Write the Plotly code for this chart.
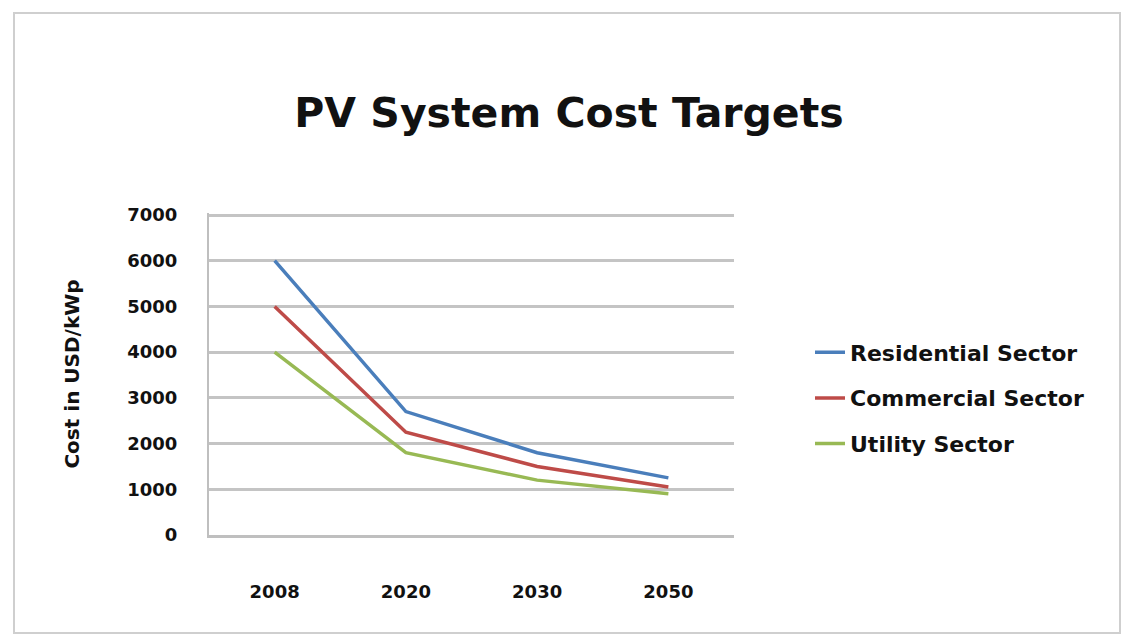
import plotly.graph_objects as go

years = ["2008", "2020", "2030", "2050"]
residential = [6000, 2700, 1800, 1250]
commercial = [5000, 2250, 1500, 1050]
utility = [4000, 1800, 1200, 900]

series_names = ["Residential Sector", "Commercial Sector", "Utility Sector"]
series_colors = ["#4a7ebb", "#be4b48", "#98b954"]
y_ticks = [0, 1000, 2000, 3000, 4000, 5000, 6000, 7000]

FONT = "DejaVu Sans, Liberation Sans, sans-serif"

fig = go.Figure()
for name, vals, col in zip(series_names, [residential, commercial, utility], series_colors):
    fig.add_trace(go.Scatter(
        x=years, y=vals, mode="lines", name=f"<b>{name}</b>", legendgroup=name,
        line=dict(color=col, width=3.5),
    ))

# page body has an 8px margin; figure is laid out in its own coordinates
W, H = 1121, 628
L, R, T, B = 201, 726, 205, 527
Y_TOP = 7000 * (B - T) / (B - 207)  # keep 7000 at y=207 while leaving room for its gridline

fig.update_layout(
    width=W, height=H,
    paper_bgcolor="white", plot_bgcolor="white",
    margin=dict(l=L, r=W - R, t=T, b=H - B, pad=0),
    title=dict(text="<b>PV System Cost Targets</b>", x=(569 - 8) / W, xanchor="center",
               y=1 - 105 / H, yanchor="middle",
               font=dict(family=FONT, size=41, color="#111111")),
    font=dict(family=FONT, color="#111111"),
    showlegend=True,
    legend=dict(x=(802 - L) / (R - L), xanchor="left", y=(B - 390) / (B - T), yanchor="middle",
                font=dict(family=FONT, size=22, color="#111111"),
                tracegroupgap=14, bgcolor="rgba(0,0,0,0)", traceorder="grouped"),
    xaxis=dict(type="category", range=[-0.5, 3.5], showgrid=False, showline=True,
               linecolor="#bfbfbf", linewidth=3, automargin=False,
               ticks="", tickfont=dict(family=FONT, size=18, color="#111111"),
               tickvals=years, ticktext=[f"<b>{y}</b>" for y in years],
               ticklabelstandoff=38, zeroline=False),
    yaxis=dict(range=[0, Y_TOP], tickvals=y_ticks, ticktext=[f"<b>{v}</b>" for v in y_ticks],
               showgrid=True, gridcolor="#c4c4c4", gridwidth=3, automargin=False,
               showline=True, linecolor="#bfbfbf", linewidth=2, zeroline=False, ticks="",
               ticklabelstandoff=26,
               tickfont=dict(family=FONT, size=18, color="#111111"),
               title=dict(text="<b>Cost in USD/kWp</b>", standoff=42,
                          font=dict(family=FONT, size=20, color="#111111"))),
)

fig.add_shape(type="rect", xref="paper", yref="paper",
              x0=(6 - L) / (R - L), x1=(1112 - L) / (R - L),
              y0=(B - 625) / (B - T), y1=(B - 5) / (B - T),
              line=dict(color="#cfcfcf", width=2), fillcolor="rgba(0,0,0,0)", layer="below")

fig.write_html("out.html")
